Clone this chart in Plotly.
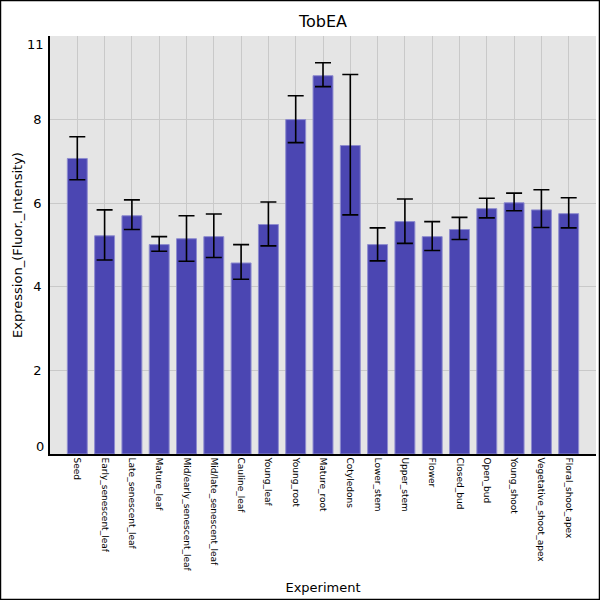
import plotly.graph_objects as go

#------------------------------------------------------------------------------#
#     data                                        #
#------------------------------------------------------------------------------#
tissues = [
    'Seed', 'Early_senescent_leaf', 'Late_senescent_leaf', 'Mature_leaf',
    'Mid/early_senescent_leaf', 'Mid/late_senescent_leaf', 'Cauline_leaf',
    'Young_leaf', 'Young_root', 'Mature_root', 'Cotyledons', 'Lower_stem',
    'Upper_stem', 'Flower', 'Closed_bud', 'Open_bud', 'Young_shoot',
    'Vegetative_shoot_apex', 'Floral_shoot_apex',
]
expression = [7.07, 5.22, 5.70, 5.01, 5.15, 5.20, 4.57, 5.49, 8.00, 9.05,
              7.38, 5.01, 5.56, 5.20, 5.37, 5.87, 6.01, 5.84, 5.75]
err_upper = [7.59, 5.84, 6.08, 5.20, 5.70, 5.74, 5.01, 6.03, 8.57, 9.36,
             9.08, 5.41, 6.10, 5.56, 5.66, 6.12, 6.24, 6.32, 6.13]
err_lower = [6.56, 4.64, 5.37, 4.85, 4.61, 4.70, 4.18, 4.98, 7.45, 8.79,
             5.72, 4.62, 5.04, 4.87, 5.13, 5.65, 5.82, 5.42, 5.41]

y_ticks = [2, 4, 6, 8]

plus = [u - v for u, v in zip(err_upper, expression)]
minus = [v - l for v, l in zip(expression, err_lower)]

#------------------------------------------------------------------------------#
#     bars with error bars                                                     #
#------------------------------------------------------------------------------#
fig = go.Figure()
fig.add_trace(go.Bar(
    x=tissues,
    y=expression,
    width=0.73,
    marker=dict(color='#4b46b2', line=dict(color='#8e8ccf', width=1)),
    error_y=dict(
        type='data',
        symmetric=False,
        array=plus,
        arrayminus=minus,
        color='black',
        thickness=1.6,
        width=8,
    ),
))

#------------------------------------------------------------------------------#
#     layout                                                                   #
#------------------------------------------------------------------------------#
font = 'DejaVu Sans'
fig.update_layout(
    width=600,
    height=600,
    margin=dict(l=50, r=4, t=36, b=146),
    paper_bgcolor='white',
    plot_bgcolor='#e5e5e5',
    showlegend=False,
    font=dict(family=font, color='black'),
    title=dict(text='TobEA', x=0.5, xref='paper', xanchor='center',
               y=0.964, yanchor='middle', font=dict(size=16)),
)
fig.update_xaxes(
    range=[-1, len(tissues)],
    tickangle=90,
    tickfont=dict(size=9),
    showgrid=True,
    gridcolor='#c9c9c9',
    gridwidth=1,
    showline=True,
    linecolor='black',
    linewidth=1.5,
    ticks='',
    title=dict(text='Experiment', font=dict(size=13), standoff=12),
)
fig.update_yaxes(
    range=[0, 10],
    tickvals=y_ticks,
    tickfont=dict(size=13),
    showgrid=True,
    gridcolor='#c9c9c9',
    gridwidth=1,
    zeroline=False,
    showline=True,
    linecolor='black',
    linewidth=1.5,
    ticks='',
    ticklabelstandoff=4,
    title=dict(text='Expression_(Fluor._Intensity)', font=dict(size=13),
               standoff=8),
)

# end labels of the y axis sit slightly inside the plot in the reference
for txt, yv in [('0', 0.17), ('11', 9.79)]:
    fig.add_annotation(text=txt, x=0, xref='paper', y=yv, yref='y',
                       xanchor='right', yanchor='middle', xshift=-4,
                       showarrow=False, font=dict(size=13, family=font))

# black frame round the whole picture
fig.add_shape(type='rect', xref='paper', yref='paper',
              x0=-0.0907, x1=1.0064, y0=-0.3481, y1=1.0849,
              line=dict(color='black', width=1.5), layer='above')

# drop the default page margin so the 600x600 figure fills the window
fig.write_html('out.html', config={'displayModeBar': False},
               post_script="document.body.style.margin='0';")
